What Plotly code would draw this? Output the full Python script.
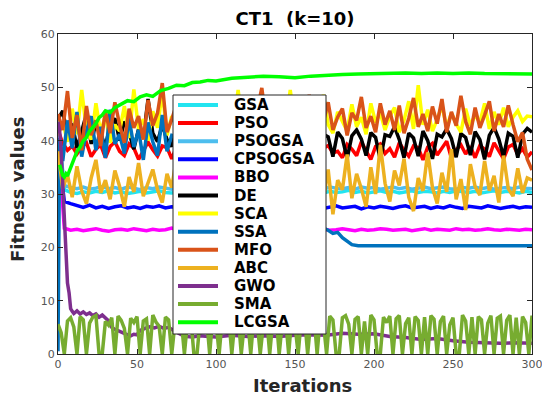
import plotly.graph_objects as go

# ---------------- data ----------------
ITER2 = list(range(0, 301, 2))  # sampled iterations for the spiky SMA curve
ITER3 = list(range(0, 301, 3))  # sampled iterations for strongly oscillating curves
ITER4 = list(range(0, 301, 4))  # sampled iterations for quiet curves

GSA = [44.0, 30.8, 30.3, 30.1, 30.4, 30.2, 30.5, 30.3, 30.6, 30.2,
       30.4, 30.1, 30.3, 30.5, 30.2, 30.4, 30.6, 30.3, 30.2, 30.5,
       30.3, 30.6, 30.4, 30.2, 30.5, 30.3, 30.4, 30.2, 30.6, 30.4,
       30.3, 30.5, 30.2, 30.4, 30.6, 30.3, 30.5, 30.2, 30.4, 30.3,
       30.6, 30.4, 30.2, 30.5, 30.3, 30.4, 30.7, 30.3, 30.5, 30.2,
       30.4, 30.6, 30.3, 30.5, 30.2, 30.4, 30.6, 30.3, 30.5, 30.4,
       30.2, 30.5, 30.3, 30.6, 30.4, 30.3, 30.5, 30.2, 30.4, 30.6,
       30.3, 30.5, 30.4, 30.2, 30.5, 30.3]

PSO = [42.0, 39.5, 38.2, 39.0, 37.5, 38.8, 39.6, 37.0, 38.4, 39.2,
       36.8, 38.9, 39.8, 38.0, 37.2, 39.4, 38.6, 36.5, 38.1, 39.7,
       38.3, 37.1, 39.0, 38.7, 36.6, 38.9, 39.5, 37.8, 38.2, 36.9,
       39.3, 38.4, 37.3, 39.1, 38.0, 36.7, 38.8, 39.6, 37.5, 38.3,
       39.0, 36.9, 38.5, 39.4, 37.6, 38.1, 36.4, 39.2, 38.7, 37.4,
       38.9, 39.7, 37.0, 38.3, 39.5, 36.6, 38.6, 39.1, 37.7, 38.0,
       36.8, 39.3, 38.4, 37.2, 39.8, 38.1, 36.5, 38.9, 39.4, 37.6,
       38.5, 36.9, 39.6, 38.2, 37.1, 39.0, 38.7, 36.4, 38.8, 39.5,
       37.3, 38.6, 39.9, 36.7, 38.3, 39.2, 37.5, 38.9, 36.8, 39.1,
       38.4, 37.0, 39.6, 38.1, 36.6, 38.8, 39.3, 37.4, 38.5, 36.9,
       37.9]

PSOGSA = [41.0, 31.6, 31.2, 31.0, 31.3, 30.9, 31.1, 31.4, 31.0, 31.2,
          30.9, 31.3, 31.1, 30.8, 31.2, 31.0, 31.3, 31.1, 30.9, 31.2,
          31.0, 31.3, 30.9, 31.1, 31.2, 31.0, 31.4, 31.1, 30.9, 31.2,
          31.1, 30.9, 31.3, 31.0, 31.2, 31.1, 30.8, 31.2, 31.0, 31.3,
          31.0, 31.2, 30.9, 31.3, 31.1, 31.0, 31.2, 30.9, 31.3, 31.1,
          31.2, 30.9, 31.1, 31.3, 31.0, 31.2, 30.9, 31.1, 31.3, 31.0,
          31.1, 31.3, 31.0, 30.9, 31.2, 31.1, 31.3, 31.0, 31.2, 30.9,
          31.1, 31.2, 31.0, 31.3, 31.1, 31.0]

CPSOGSA = [39.0, 28.6, 28.2, 27.8, 27.5, 27.9, 27.4, 27.7, 27.3, 27.6,
           27.8, 27.4, 27.6, 27.3, 27.7, 27.5, 27.8, 27.4, 27.6, 27.5,
           27.3, 27.7, 27.5, 27.8, 27.4, 27.6, 27.3, 27.7, 27.5, 27.4,
           27.6, 27.8, 27.4, 27.5, 27.7, 27.3, 27.6, 27.5, 27.8, 27.4,
           27.5, 27.7, 27.3, 27.6, 27.8, 27.4, 27.5, 27.7, 27.2, 27.6,
           27.4, 27.7, 27.5, 27.3, 27.6, 27.8, 27.4, 27.5, 27.7, 27.3,
           27.6, 27.4, 27.8, 27.5, 27.3, 27.7, 27.5, 27.4, 27.8, 27.6,
           27.3, 27.5, 27.7, 27.4, 27.6, 27.5]

BBO = [40.5, 23.6, 23.2, 23.4, 23.1, 23.3, 23.5, 23.2, 23.0, 23.3,
       23.4, 23.2, 23.5, 23.3, 23.1, 23.4, 23.2, 23.3, 23.6, 23.2,
       23.3, 23.1, 23.4, 23.3, 23.5, 23.2, 23.3, 23.4, 23.1, 23.3,
       23.2, 23.5, 23.3, 23.4, 23.2, 23.3, 23.5, 23.2, 23.4, 23.1,
       23.3, 23.6, 23.4, 23.2, 23.3, 23.5, 23.3, 23.1, 23.4, 23.2,
       23.3, 23.5, 23.4, 23.2, 23.3, 23.4, 23.1, 23.3, 23.5, 23.2,
       23.4, 23.3, 23.2, 23.5, 23.3, 23.4, 23.2, 23.3, 23.5, 23.3,
       23.2, 23.4, 23.3, 23.2, 23.4, 23.3]

DE = [44.0, 45.6, 41.0, 43.2, 38.6, 42.0, 45.0, 39.4, 43.5, 41.2,
      39.0, 42.8, 44.2, 40.0, 43.6, 41.5, 38.4, 42.2, 40.6, 47.8,
      41.4, 39.8, 43.0, 40.2, 38.9, 42.6, 40.4, 37.2, 41.0, 40.7,
      36.8, 40.9, 41.6, 40.3, 37.4, 41.2, 42.4, 40.5, 36.9, 40.8,
      41.5, 40.1, 37.0, 41.3, 40.6, 42.8, 36.6, 40.9, 41.4, 40.2,
      37.3, 41.0, 40.5, 43.4, 40.1, 36.5, 41.2, 40.7, 37.0, 41.6,
      40.4, 36.7, 40.9, 42.0, 40.3, 37.2, 41.5, 40.6, 36.4, 41.1,
      40.8, 42.6, 40.2, 36.8, 41.4, 40.5, 37.1, 41.8, 40.0, 36.6,
      41.2, 40.7, 42.2, 40.4, 36.9, 41.3, 40.6, 37.3, 41.7, 40.2,
      36.5, 41.0, 42.5, 40.3, 37.0, 41.4, 40.8, 36.8, 41.2, 42.3,
      41.6]

SCA = [41.0, 43.5, 39.8, 46.0, 41.2, 49.5, 42.0, 40.2, 47.0, 41.5,
       44.8, 39.6, 43.0, 41.8, 46.5, 40.5, 49.6, 42.2, 44.0, 40.0,
       45.5, 42.4, 49.2, 41.0, 44.6, 42.8, 47.4, 40.8, 43.6, 45.8,
       41.6, 44.2, 47.8, 42.0, 45.2, 41.4, 46.4, 43.0, 49.5, 42.6,
       44.8, 41.2, 46.0, 43.4, 42.0, 47.2, 41.8, 45.0, 43.2, 49.5,
       42.4, 45.6, 41.6, 44.0, 46.6, 42.2, 48.6, 43.0, 41.4, 45.4,
       43.6, 41.8, 46.8, 42.6, 44.4, 41.2, 47.0, 43.4, 45.2, 42.0,
       44.6, 46.2, 41.6, 43.8, 47.4, 42.2, 50.4, 43.0, 45.8, 41.8,
       44.0, 46.6, 42.4, 45.2, 43.2, 41.6, 46.0, 42.8, 44.8, 43.4,
       47.0, 42.2, 45.4, 43.0, 46.2, 42.6, 44.4, 45.6, 43.6, 44.6,
       44.5]

SSA_X = [0, 1, 3, 6, 9, 12, 15, 18, 21, 24, 27, 30, 33, 36, 39, 42, 45, 48, 51, 54, 57,
         60, 63, 66, 69, 72,
         80, 90, 100, 110, 120, 130, 140, 150, 160,
         165, 168, 171, 174, 177, 180, 183, 186,
         190, 200, 250, 300]
SSA = [0.5, 40.5, 36.2, 43.8, 38.6, 45.4, 37.0, 41.8, 44.6, 38.2, 42.6, 36.8, 45.8, 39.4,
       41.2, 37.6, 44.2, 38.8, 42.0, 36.4, 43.4,
       39.8, 37.2, 44.8, 38.0, 41.0,
       40.5, 37.0, 39.0, 33.0, 30.0, 28.0, 26.0, 25.0, 24.5,
       24.0, 23.6, 23.2, 22.6, 22.8, 21.8, 21.2, 20.5,
       20.3, 20.3, 20.3, 20.3]

MFO = [45.0, 42.0, 49.3, 40.5, 44.8, 38.2, 46.5, 41.0, 43.8, 39.0,
       45.6, 41.4, 47.2, 43.0, 39.6, 46.0, 42.4, 44.6, 40.2, 47.6,
       42.8, 45.2, 50.8, 41.6, 44.0, 46.8, 40.6, 43.6, 45.8, 41.2,
       46.4, 42.6, 44.8, 47.4, 41.8, 45.0, 43.2, 48.0, 42.0, 44.4,
       46.2, 41.6, 45.6, 49.9, 42.8, 44.2, 47.0, 41.4, 45.4, 43.0,
       46.8, 42.2, 44.8, 48.6, 41.2, 45.8, 43.6, 47.2, 42.0, 44.4,
       46.0, 41.0, 45.2, 43.8, 48.2, 42.4, 44.6, 41.6, 47.0, 43.0,
       45.6, 42.0, 46.6, 41.4, 44.2, 48.0, 42.6, 45.0, 41.8, 46.4,
       43.2, 47.8, 41.6, 45.4, 42.8, 48.4, 43.6, 41.2, 46.2, 42.4,
       44.8, 47.4, 41.8, 45.0, 42.6, 46.6, 43.0, 39.8, 41.5, 36.5,
       34.5]

ABC = [38.0, 31.0, 33.6, 29.4, 35.2, 30.6, 28.2, 33.0, 36.4, 30.2,
       32.6, 29.0, 34.4, 31.4, 27.6, 33.2, 30.4, 35.8, 29.6, 32.0,
       34.6, 30.8, 28.4, 33.8, 31.2, 36.8, 29.2, 32.4, 30.0, 34.2,
       28.6, 33.0, 31.6, 35.4, 29.8, 32.8, 27.8, 34.0, 30.6, 33.4,
       31.0, 36.2, 29.4, 32.2, 30.4, 34.8, 28.8, 33.6, 31.8, 29.6,
       35.6, 30.2, 33.2, 28.0, 38.6, 31.4, 29.0, 34.6, 26.2, 32.6,
       30.8, 37.4, 29.2, 33.8, 31.0, 27.6, 35.0, 30.0, 39.2, 32.0,
       28.6, 34.4, 31.6, 36.6, 29.4, 26.8, 33.0, 30.6, 37.8, 31.2,
       28.2, 34.0, 30.4, 38.4, 29.0, 32.8, 27.0, 35.6, 31.4, 29.8,
       36.2, 30.6, 33.4, 28.4, 37.2, 31.0, 29.6, 34.8, 30.2, 33.0,
       32.6]

GWO_X = [0, 1, 2, 3, 4, 5, 6, 7, 8, 9, 10, 12, 14, 16, 18, 20, 22, 24, 26, 28,
         30, 32, 34, 36, 38, 40, 42, 44, 46, 48, 50, 52, 55, 58, 61, 64, 67, 70, 73, 76,
         80, 85, 90, 95, 100, 110, 120, 130, 140, 150, 160, 170, 180, 190, 200,
         210, 220, 230, 240, 250, 260, 270, 280, 290, 300]
GWO = [43.5, 42.0, 38.0, 31.0, 24.0, 19.5, 13.3, 11.5, 8.5, 8.0, 7.6, 8.1, 7.5, 7.9, 7.4, 7.7, 7.2, 7.5, 6.9, 7.3,
       6.8, 6.2, 5.0, 4.6, 4.4, 4.1, 3.9, 3.6, 3.4, 3.7, 3.6, 4.4, 4.8, 5.1, 4.9, 5.2, 4.8, 5.0, 4.4, 3.9,
       3.3, 3.2, 3.4, 3.3, 3.2, 3.5, 3.3, 3.4, 3.3, 3.5, 3.6, 3.5, 3.9, 3.7, 3.8,
       3.3, 3.1, 2.7, 2.9, 2.5, 2.2, 2.1, 2.0, 2.1, 2.0]

SMA = [5.6, 4.0, 0.0, 6.2, 6.8, 5.1, 0.0, 7.0, 6.4, 0.0,
       5.8, 6.9, 7.2, 0.0, 0.0, 6.1, 5.4, 6.8, 0.0, 7.1,
       6.3, 4.8, 0.0, 6.7, 5.9, 7.0, 0.0, 6.2, 6.6, 0.0,
       7.3, 6.0, 5.2, 0.0, 6.9, 6.4, 0.0, 5.7, 7.1, 6.5,
       0.0, 6.2, 7.0, 0.0, 0.0, 6.6, 5.8, 6.9, 0.0, 7.2,
       6.1, 0.0, 6.8, 5.5, 7.0, 0.0, 6.4, 7.2, 0.0, 5.9,
       6.7, 0.0, 7.1, 6.3, 0.0, 5.6, 6.9, 0.0, 6.5, 7.3,
       0.0, 6.0, 6.8, 0.0, 7.2, 5.4, 0.0, 6.6, 7.0, 0.0,
       6.2, 7.3, 0.0, 6.9, 5.8, 0.0, 7.1, 6.4, 0.0, 0.0,
       6.8, 7.2, 5.6, 0.0, 6.5, 7.0, 0.0, 6.1, 0.0, 7.3,
       6.4, 0.0, 0.0, 6.9, 5.9, 7.1, 0.0, 6.6, 7.2, 0.0,
       5.7, 6.8, 0.0, 7.0, 6.3, 0.0, 6.9, 0.0, 7.2, 6.5,
       0.0, 6.1, 7.1, 0.0, 5.5, 6.8, 0.0, 0.0, 7.3, 6.2,
       0.0, 6.9, 0.0, 7.0, 6.4, 0.0, 5.8, 7.2, 0.0, 6.7,
       7.1, 0.0, 6.3, 7.3, 0.0, 6.8, 0.0, 7.0, 5.9, 0.0,
       7.2]

LCGSA_X = [1, 2, 3, 4, 5, 6, 8, 10, 12, 14, 16, 18, 20, 22, 24, 26, 28, 30, 33, 36,
           40, 44, 48, 52, 56, 60, 65, 70, 75, 80, 85, 90, 95, 100, 110, 120, 130, 140, 150, 160,
           170, 180, 190, 200, 210, 220, 230, 240, 250, 260, 270, 280, 290, 300]
LCGSA = [35.5, 34.5, 33.5, 33.2, 33.8, 33.4, 35.0, 36.5, 38.0, 38.8, 40.0, 40.6, 41.8, 42.5, 43.2, 44.3, 44.8, 45.6, 45.3, 46.2,
         46.8, 47.5, 47.3, 48.2, 48.6, 48.3, 49.4, 49.8, 50.4, 50.3, 50.9, 51.0, 51.3, 51.2, 51.7, 51.9, 52.1, 52.0, 51.8, 52.1,
         52.3, 52.4, 52.5, 52.6, 52.7, 52.7, 52.6, 52.7, 52.6, 52.7, 52.6, 52.6, 52.5, 52.5]

NAMES = ["GSA", "PSO", "PSOGSA", "CPSOGSA", "BBO", "DE", "SCA", "SSA", "MFO", "ABC", "GWO", "SMA", "LCGSA"]
COLORS = ["#22E4F0", "#FF0000", "#4DBEEE", "#0000FF", "#FF00FF", "#000000", "#FFFF00",
          "#0072BD", "#D95319", "#EDB120", "#7E2F8E", "#77AC30", "#00FF00"]

SERIES = [(ITER4, GSA), (ITER3, PSO), (ITER4, PSOGSA), (ITER4, CPSOGSA), (ITER4, BBO), (ITER3, DE),
          (ITER3, SCA), (SSA_X, SSA), (ITER3, MFO), (ITER3, ABC), (GWO_X, GWO), (ITER2, SMA),
          (LCGSA_X, LCGSA)]

for name, (xs, ys) in zip(NAMES, SERIES):
    if len(xs) != len(ys):
        raise ValueError(f"{name}: {len(xs)} x vs {len(ys)} y")

# ---------------- figure ----------------
# The page body adds an 8 px offset, so the figure is laid out 8 px up/left.
PLOT_W, PLOT_H = 474, 320

fig = go.Figure()
for name, color, (xs, ys) in zip(NAMES, COLORS, SERIES):
    fig.add_trace(go.Scatter(x=xs, y=ys, mode="lines", name=name,
                             line=dict(color=color, width=3.5)))

axis_common = dict(showline=True, mirror="ticks", linecolor="#262626", linewidth=1.2,
                   ticks="inside", ticklen=5, tickcolor="#262626", showgrid=False,
                   zeroline=False, tickfont=dict(family="DejaVu Sans", size=11, color="#555555"))

# ---- boxed legend (MATLAB style), laid out in plot-area pixels ----
LEG_LEFT, LEG_RIGHT, LEG_TOP, LEG_BOTTOM = 115, 268, 259, 20   # px from plot's left / bottom
ROW0, ROW_STEP = 249, 18.1                                     # first row centre, row pitch
SW_X0, SW_X1, TXT_X = 120, 160, 174

shapes = [dict(type="rect", xref="paper", yref="paper", layer="above",
               x0=LEG_LEFT / PLOT_W, x1=LEG_RIGHT / PLOT_W,
               y0=LEG_BOTTOM / PLOT_H, y1=LEG_TOP / PLOT_H,
               fillcolor="white", line=dict(color="#262626", width=1))]
annotations = []
for i, (name, color) in enumerate(zip(NAMES, COLORS)):
    yc = (ROW0 - i * ROW_STEP) / PLOT_H
    shapes.append(dict(type="line", xref="paper", yref="paper", layer="above",
                       x0=SW_X0 / PLOT_W, x1=SW_X1 / PLOT_W, y0=yc, y1=yc,
                       line=dict(color=color, width=4)))
    annotations.append(dict(text=name, xref="paper", yref="paper", x=TXT_X / PLOT_W, y=yc,
                            xanchor="left", yanchor="middle", showarrow=False,
                            font=dict(family="DejaVu Sans", size=15, color="black", weight="bold")))

annotations += [
    dict(text="Iterations", xref="paper", yref="paper", x=0.515, y=-0.097,
         xanchor="center", yanchor="middle", showarrow=False,
         font=dict(family="DejaVu Sans", size=18, color="#262626", weight="bold")),
    dict(text="Fitness values", xref="paper", yref="paper", x=-0.084, y=0.516,
         xanchor="center", yanchor="middle", showarrow=False, textangle=-90,
         font=dict(family="DejaVu Sans", size=18, color="#262626", weight="bold")),
]

fig.update_layout(
    width=550, height=399,
    margin=dict(l=50, r=26, t=26, b=53),
    paper_bgcolor="white", plot_bgcolor="white",
    title=dict(text="CT1\u00a0\u00a0(k=10)", xref="paper", x=0.5, xanchor="center",
               y=1 - 10.5 / 399, yanchor="middle",
               font=dict(family="DejaVu Sans", size=18, color="black", weight="bold")),
    xaxis=dict(range=[0, 300], dtick=50, tick0=0, **axis_common),
    yaxis=dict(range=[0, 60], dtick=10, tick0=0, **axis_common),
    showlegend=False,
    shapes=shapes,
    annotations=annotations,
)

fig.write_html("out.html")
